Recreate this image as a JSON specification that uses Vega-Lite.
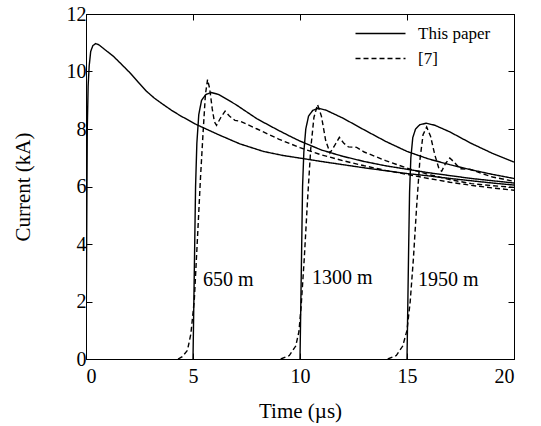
{
  "$schema": "https://vega.github.io/schema/vega-lite/v6.json",
  "width": 428,
  "height": 345,
  "autosize": "none",
  "padding": {"left": 86, "top": 14, "right": 27, "bottom": 67},
  "background": "white",
  "config": {
    "view": {"stroke": "black", "strokeWidth": 1},
    "font": "Liberation Serif",
    "axis": {
      "grid": false,
      "domainColor": "black",
      "tickColor": "black",
      "tickSize": -6,
      "labelColor": "black",
      "titleColor": "black",
      "labelFont": "Liberation Serif",
      "titleFont": "Liberation Serif",
      "labelFontSize": 20,
      "titleFontSize": 21,
      "titleFontWeight": "normal"
    }
  },
  "datasets": {
    "curves": [
      {"c":"A","s":"This paper","t":0,"i":0},{"c":"A","s":"This paper","t":0.03,"i":4},{"c":"A","s":"This paper","t":0.06,"i":8},{"c":"A","s":"This paper","t":0.1,"i":9.5},{"c":"A","s":"This paper","t":0.15,"i":10.2},{"c":"A","s":"This paper","t":0.22,"i":10.7},{"c":"A","s":"This paper","t":0.32,"i":10.9},{"c":"A","s":"This paper","t":0.45,"i":10.97},{"c":"A","s":"This paper","t":0.6,"i":10.93},{"c":"A","s":"This paper","t":0.9,"i":10.75},{"c":"A","s":"This paper","t":1.28,"i":10.53},{"c":"A","s":"This paper","t":1.7,"i":10.22},{"c":"A","s":"This paper","t":2.06,"i":9.95},{"c":"A","s":"This paper","t":2.45,"i":9.62},{"c":"A","s":"This paper","t":2.83,"i":9.31},{"c":"A","s":"This paper","t":3.2,"i":9.07},{"c":"A","s":"This paper","t":3.61,"i":8.85},{"c":"A","s":"This paper","t":4.0,"i":8.65},{"c":"A","s":"This paper","t":4.39,"i":8.47},{"c":"A","s":"This paper","t":5.17,"i":8.15},{"c":"A","s":"This paper","t":6.26,"i":7.78},{"c":"A","s":"This paper","t":7.2,"i":7.48},{"c":"A","s":"This paper","t":8.29,"i":7.22},{"c":"A","s":"This paper","t":9.2,"i":7.08},{"c":"A","s":"This paper","t":10.15,"i":6.97},{"c":"A","s":"This paper","t":11,"i":6.87},{"c":"A","s":"This paper","t":12,"i":6.76},{"c":"A","s":"This paper","t":13,"i":6.65},{"c":"A","s":"This paper","t":14,"i":6.55},{"c":"A","s":"This paper","t":15,"i":6.45},{"c":"A","s":"This paper","t":16,"i":6.37},{"c":"A","s":"This paper","t":17,"i":6.28},{"c":"A","s":"This paper","t":18,"i":6.2},{"c":"A","s":"This paper","t":19,"i":6.12},{"c":"A","s":"This paper","t":20,"i":6.05},
      {"c":"B","s":"This paper","t":5,"i":0},{"c":"B","s":"This paper","t":5.03,"i":1.5},{"c":"B","s":"This paper","t":5.08,"i":4},{"c":"B","s":"This paper","t":5.12,"i":6},{"c":"B","s":"This paper","t":5.18,"i":7.5},{"c":"B","s":"This paper","t":5.27,"i":8.5},{"c":"B","s":"This paper","t":5.4,"i":9.0},{"c":"B","s":"This paper","t":5.6,"i":9.2},{"c":"B","s":"This paper","t":5.85,"i":9.27},{"c":"B","s":"This paper","t":6.2,"i":9.2},{"c":"B","s":"This paper","t":7,"i":8.85},{"c":"B","s":"This paper","t":8,"i":8.35},{"c":"B","s":"This paper","t":9,"i":7.95},{"c":"B","s":"This paper","t":9.53,"i":7.75},{"c":"B","s":"This paper","t":10,"i":7.58},{"c":"B","s":"This paper","t":11,"i":7.27},{"c":"B","s":"This paper","t":12,"i":7.05},{"c":"B","s":"This paper","t":13,"i":6.87},{"c":"B","s":"This paper","t":14,"i":6.72},{"c":"B","s":"This paper","t":15,"i":6.6},{"c":"B","s":"This paper","t":16,"i":6.48},{"c":"B","s":"This paper","t":17,"i":6.38},{"c":"B","s":"This paper","t":18,"i":6.28},{"c":"B","s":"This paper","t":19,"i":6.2},{"c":"B","s":"This paper","t":20,"i":6.12},
      {"c":"Bd","s":"[7]","t":4.3,"i":0},{"c":"Bd","s":"[7]","t":4.5,"i":0.08},{"c":"Bd","s":"[7]","t":4.74,"i":0.3},{"c":"Bd","s":"[7]","t":4.9,"i":0.87},{"c":"Bd","s":"[7]","t":5.06,"i":2.04},{"c":"Bd","s":"[7]","t":5.22,"i":4.37},{"c":"Bd","s":"[7]","t":5.35,"i":6.3},{"c":"Bd","s":"[7]","t":5.47,"i":7.86},{"c":"Bd","s":"[7]","t":5.58,"i":9.2},{"c":"Bd","s":"[7]","t":5.68,"i":9.72},{"c":"Bd","s":"[7]","t":5.78,"i":9.4},{"c":"Bd","s":"[7]","t":5.9,"i":8.7},{"c":"Bd","s":"[7]","t":6.0,"i":8.25},{"c":"Bd","s":"[7]","t":6.1,"i":8.13},{"c":"Bd","s":"[7]","t":6.3,"i":8.4},{"c":"Bd","s":"[7]","t":6.5,"i":8.62},{"c":"Bd","s":"[7]","t":6.7,"i":8.45},{"c":"Bd","s":"[7]","t":6.96,"i":8.3},{"c":"Bd","s":"[7]","t":7.2,"i":8.27},{"c":"Bd","s":"[7]","t":8,"i":8.0},{"c":"Bd","s":"[7]","t":9,"i":7.65},{"c":"Bd","s":"[7]","t":10,"i":7.35},{"c":"Bd","s":"[7]","t":11,"i":7.1},{"c":"Bd","s":"[7]","t":12,"i":6.9},{"c":"Bd","s":"[7]","t":13,"i":6.72},{"c":"Bd","s":"[7]","t":14,"i":6.56},{"c":"Bd","s":"[7]","t":15,"i":6.42},{"c":"Bd","s":"[7]","t":16,"i":6.28},{"c":"Bd","s":"[7]","t":17,"i":6.15},{"c":"Bd","s":"[7]","t":18,"i":6.04},{"c":"Bd","s":"[7]","t":19,"i":5.95},{"c":"Bd","s":"[7]","t":20,"i":5.87},
      {"c":"C","s":"This paper","t":10,"i":0},{"c":"C","s":"This paper","t":10.03,"i":1.5},{"c":"C","s":"This paper","t":10.08,"i":4},{"c":"C","s":"This paper","t":10.12,"i":6},{"c":"C","s":"This paper","t":10.18,"i":7.2},{"c":"C","s":"This paper","t":10.27,"i":8.0},{"c":"C","s":"This paper","t":10.4,"i":8.45},{"c":"C","s":"This paper","t":10.6,"i":8.65},{"c":"C","s":"This paper","t":10.85,"i":8.72},{"c":"C","s":"This paper","t":11.2,"i":8.66},{"c":"C","s":"This paper","t":12,"i":8.38},{"c":"C","s":"This paper","t":13,"i":7.97},{"c":"C","s":"This paper","t":14,"i":7.57},{"c":"C","s":"This paper","t":15,"i":7.22},{"c":"C","s":"This paper","t":16,"i":6.96},{"c":"C","s":"This paper","t":17,"i":6.76},{"c":"C","s":"This paper","t":18,"i":6.58},{"c":"C","s":"This paper","t":19,"i":6.42},{"c":"C","s":"This paper","t":20,"i":6.28},
      {"c":"Cd","s":"[7]","t":9.1,"i":0},{"c":"Cd","s":"[7]","t":9.5,"i":0.12},{"c":"Cd","s":"[7]","t":9.8,"i":0.45},{"c":"Cd","s":"[7]","t":9.95,"i":0.95},{"c":"Cd","s":"[7]","t":10.05,"i":1.8},{"c":"Cd","s":"[7]","t":10.2,"i":3.5},{"c":"Cd","s":"[7]","t":10.35,"i":5.5},{"c":"Cd","s":"[7]","t":10.5,"i":7.3},{"c":"Cd","s":"[7]","t":10.65,"i":8.4},{"c":"Cd","s":"[7]","t":10.82,"i":8.85},{"c":"Cd","s":"[7]","t":11.0,"i":8.45},{"c":"Cd","s":"[7]","t":11.2,"i":7.6},{"c":"Cd","s":"[7]","t":11.4,"i":7.17},{"c":"Cd","s":"[7]","t":11.6,"i":7.4},{"c":"Cd","s":"[7]","t":11.84,"i":7.71},{"c":"Cd","s":"[7]","t":12.05,"i":7.5},{"c":"Cd","s":"[7]","t":12.26,"i":7.38},{"c":"Cd","s":"[7]","t":12.65,"i":7.36},{"c":"Cd","s":"[7]","t":13,"i":7.2},{"c":"Cd","s":"[7]","t":14,"i":6.9},{"c":"Cd","s":"[7]","t":15,"i":6.64},{"c":"Cd","s":"[7]","t":16,"i":6.42},{"c":"Cd","s":"[7]","t":17,"i":6.24},{"c":"Cd","s":"[7]","t":18,"i":6.1},{"c":"Cd","s":"[7]","t":19,"i":6.03},{"c":"Cd","s":"[7]","t":20,"i":5.97},
      {"c":"D","s":"This paper","t":15,"i":0},{"c":"D","s":"This paper","t":15.03,"i":1.5},{"c":"D","s":"This paper","t":15.08,"i":4},{"c":"D","s":"This paper","t":15.12,"i":5.8},{"c":"D","s":"This paper","t":15.18,"i":7.0},{"c":"D","s":"This paper","t":15.27,"i":7.7},{"c":"D","s":"This paper","t":15.4,"i":8.0},{"c":"D","s":"This paper","t":15.6,"i":8.15},{"c":"D","s":"This paper","t":15.9,"i":8.2},{"c":"D","s":"This paper","t":16.3,"i":8.13},{"c":"D","s":"This paper","t":17,"i":7.9},{"c":"D","s":"This paper","t":18,"i":7.5},{"c":"D","s":"This paper","t":19,"i":7.15},{"c":"D","s":"This paper","t":20,"i":6.85},
      {"c":"Dd","s":"[7]","t":14.1,"i":0},{"c":"Dd","s":"[7]","t":14.5,"i":0.12},{"c":"Dd","s":"[7]","t":14.8,"i":0.45},{"c":"Dd","s":"[7]","t":15.0,"i":1.0},{"c":"Dd","s":"[7]","t":15.15,"i":2.0},{"c":"Dd","s":"[7]","t":15.3,"i":3.5},{"c":"Dd","s":"[7]","t":15.45,"i":5.3},{"c":"Dd","s":"[7]","t":15.6,"i":6.9},{"c":"Dd","s":"[7]","t":15.75,"i":7.8},{"c":"Dd","s":"[7]","t":15.92,"i":8.07},{"c":"Dd","s":"[7]","t":16.1,"i":7.75},{"c":"Dd","s":"[7]","t":16.3,"i":7.1},{"c":"Dd","s":"[7]","t":16.5,"i":6.6},{"c":"Dd","s":"[7]","t":16.62,"i":6.53},{"c":"Dd","s":"[7]","t":16.8,"i":6.8},{"c":"Dd","s":"[7]","t":17.0,"i":6.99},{"c":"Dd","s":"[7]","t":17.2,"i":6.85},{"c":"Dd","s":"[7]","t":17.48,"i":6.62},{"c":"Dd","s":"[7]","t":17.94,"i":6.6},{"c":"Dd","s":"[7]","t":18.5,"i":6.45},{"c":"Dd","s":"[7]","t":19,"i":6.33},{"c":"Dd","s":"[7]","t":20,"i":6.18}
    ],
    "labels": [
      {"t": 5.47, "i": 2.75, "label": "650 m"},
      {"t": 10.56, "i": 2.83, "label": "1300 m"},
      {"t": 15.51, "i": 2.75, "label": "1950 m"}
    ]
  },
  "layer": [
    {
      "data": {"name": "curves"},
      "mark": {"type": "line", "strokeWidth": 1.4, "color": "black", "clip": true},
      "encoding": {
        "x": {"field": "t", "type": "quantitative", "scale": {"domain": [0, 20]},
              "axis": {"title": "Time (µs)", "values": [0, 5, 10, 15, 20], "labelPadding": 13, "titlePadding": 14}},
        "y": {"field": "i", "type": "quantitative", "scale": {"domain": [0, 12]},
              "axis": {"title": "Current (kA)", "values": [0, 2, 4, 6, 8, 10, 12], "labelPadding": 6, "titlePadding": 33}},
        "detail": {"field": "c"},
        "strokeDash": {
          "field": "s", "type": "nominal",
          "scale": {"domain": ["This paper", "[7]"], "range": [[1, 0], [5, 3]]},
          "legend": {
            "title": null, "orient": "none", "legendX": 286, "legendY": 11,
            "symbolType": "M-5,0H5", "symbolSize": 100, "symbolStrokeWidth": 1.4,
            "symbolStrokeColor": "black", "symbolFillColor": "transparent",
            "labelFontSize": 17, "labelFont": "Liberation Serif",
            "labelColor": "black", "rowPadding": 7, "labelOffset": 29
          }
        }
      }
    },
    {
      "data": {"name": "labels"},
      "mark": {"type": "text", "align": "left", "baseline": "middle", "fontSize": 20, "font": "Liberation Serif", "color": "black"},
      "encoding": {
        "x": {"field": "t", "type": "quantitative", "scale": {"domain": [0, 20]},
              "axis": {"orient": "top", "labels": false, "title": null, "values": [0, 5, 10, 15, 20]}},
        "y": {"field": "i", "type": "quantitative", "scale": {"domain": [0, 12]},
              "axis": {"orient": "right", "labels": false, "title": null, "values": [0, 2, 4, 6, 8, 10, 12]}},
        "text": {"field": "label"}
      }
    }
  ],
  "resolve": {"axis": {"x": "independent", "y": "independent"}}
}
